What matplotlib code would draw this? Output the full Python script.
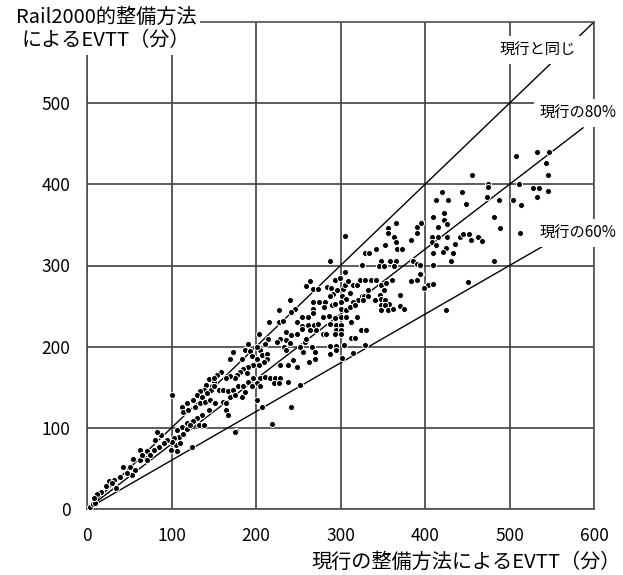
import matplotlib.pyplot as plt

plt.rcParams['font.family'] = ['Noto Sans CJK JP', 'DejaVu Sans']

# 現行の整備方法によるEVTT (x) と Rail2000的整備方法によるEVTT (y)
evtt_now = [
    4, 7, 10,
    101, 144, 150, 141, 148, 138, 134, 147, 130, 136, 142, 126, 118, 112, 114, 120,
    128, 134, 140, 146, 150, 144, 136, 130, 126, 118, 112, 107, 109, 114, 118, 122,
    132, 138, 103, 105, 110, 99, 107, 101, 95, 91, 85, 79, 71, 75, 67, 63, 71, 55,
    51, 43, 57, 53, 47, 39, 32, 26, 30, 22, 34, 16, 12, 8, 87, 83, 81, 63, 65, 124,
    176, 173, 168,
    240, 246, 242, 227, 215, 227, 232, 204, 214, 211, 205, 201, 191, 187, 193, 173,
    169, 183, 195, 201, 207, 213, 213, 209, 204, 197, 191, 185, 189, 181, 177, 175,
    169, 165, 159, 154, 150, 150, 156, 161, 167, 173, 179, 185, 191, 197, 205, 211,
    217, 201, 205, 195, 223, 228, 221, 227, 238, 252, 161, 165, 169, 175, 183, 187,
    152, 165, 167, 201, 207, 242, 219, 175, 248, 254, 236, 242, 248, 228, 225, 233,
    236, 244, 248, 238, 228, 236, 240, 256, 252,
    305, 287, 366, 395, 356, 356, 390, 390, 363, 366, 383, 353, 342, 367, 373, 329,
    334, 325, 348, 358, 366, 346, 352, 363, 386, 390, 394, 383, 390, 395, 399, 405,
    305, 294, 299, 259, 264, 267, 273, 284, 289, 291, 296, 303, 305, 309, 315, 319,
    323, 329, 336, 342, 348, 354, 361, 351, 347, 333, 325, 328, 321, 315, 311, 302,
    307, 300, 287, 282, 274, 268, 268, 268, 280, 290, 294, 300, 307, 311, 317, 327,
    333, 341, 348, 353, 357, 348, 353, 348, 356, 362, 370, 370, 375, 261, 254, 254,
    269, 273, 262, 279, 286, 294, 300, 307, 313, 319, 287, 295, 300, 264, 271, 279,
    283, 295, 300, 294, 300, 258, 256, 266, 270, 259, 287, 295, 304, 287, 295, 312,
    317, 324, 330, 329, 315, 302, 263, 270,
    508, 532, 547, 543, 546, 456, 475, 475, 511, 528, 535, 532, 545, 420, 413, 427,
    444, 448, 473, 487, 504, 514, 482, 489, 513, 395, 409, 423, 423, 426, 415, 408,
    415, 426, 408, 413, 435, 441, 445, 452, 454, 463, 468, 425, 421, 433, 409, 431,
    409, 394, 482, 394, 451, 404, 409, 399, 425,
]
evtt_rail = [
    3, 6, 8,
    141, 160, 157, 153, 151, 147, 145, 146, 140, 138, 143, 134, 130, 126, 120, 122,
    126, 130, 132, 134, 130, 122, 116, 112, 108, 106, 101, 97, 89, 93, 99, 104,
    104, 104, 87, 79, 81, 73, 71, 83, 85, 81, 77, 73, 71, 67, 64, 60, 60, 62,
    52, 52, 48, 42, 44, 40, 36, 34, 32, 28, 26, 21, 19, 13, 91, 95, 85, 73, 67, 77,
    96, 193, 185,
    257, 246, 243, 245, 231, 231, 232, 216, 209, 203, 196, 199, 203, 196, 195, 193,
    185, 185, 188, 185, 190, 191, 185, 181, 178, 177, 175, 173, 167, 169, 165, 161,
    164, 161, 169, 165, 161, 151, 147, 147, 145, 147, 151, 151, 157, 161, 161, 163,
    161, 155, 151, 151, 161, 161, 155, 155, 157, 153, 132, 130, 138, 140, 138, 144,
    130, 122, 116, 134, 126, 126, 105, 95, 231, 225, 218, 214, 216, 210, 206, 200,
    196, 184, 175, 177, 177, 208, 204, 194, 200,
    336, 306, 352, 353, 346, 340, 347, 340, 335, 329, 331, 325, 320, 320, 320, 316,
    316, 301, 306, 306, 306, 300, 300, 300, 306, 302, 300, 281, 282, 290, 273, 276,
    292, 282, 284, 275, 281, 271, 271, 274, 272, 265, 270, 271, 276, 281, 276, 276,
    282, 282, 282, 282, 276, 278, 282, 270, 264, 270, 262, 263, 257, 255, 266, 262,
    259, 255, 262, 255, 255, 255, 247, 242, 249, 251, 253, 247, 245, 249, 251, 258,
    262, 258, 259, 257, 253, 251, 251, 245, 245, 246, 264, 250, 247, 236, 236, 222,
    227, 228, 227, 237, 238, 235, 237, 237, 231, 237, 228, 227, 227, 221, 221, 216,
    216, 221, 221, 216, 216, 206, 194, 200, 193, 209, 201, 201, 202, 191, 196, 211,
    211, 221, 221, 202, 192, 186, 181, 185,
    435, 440, 440, 426, 411, 411, 400, 397, 400, 395, 396, 385, 392, 391, 381, 381,
    390, 376, 385, 381, 381, 375, 360, 346, 340, 352, 360, 365, 356, 351, 347, 335,
    335, 335, 329, 325, 326, 335, 339, 339, 331, 335, 330, 321, 317, 315, 315, 305,
    301, 301, 305, 290, 280, 276, 277, 272, 245,
]

ratios = [1.0, 0.8, 0.6]
line_ends = [600, 587, 540]
line_labels = ['現行と同じ', '現行の80%', '現行の60%']
label_pos = [(533, 565), (581, 488), (581, 340)]
ticks = [0, 100, 200, 300, 400, 500, 600]
yticks = [0, 100, 200, 300, 400, 500]

fig = plt.figure(figsize=(6.23, 5.75), dpi=100)
ax = fig.add_axes([87 / 623, 1 - 509 / 575, 507 / 623, 487 / 575])

ax.set_xlim(0, 600)
ax.set_ylim(0, 600)
ax.set_xticks(ticks)
ax.set_yticks(yticks)
ax.tick_params(length=0, labelsize=12.5)
ax.tick_params(axis='y', pad=12)
ax.tick_params(axis='x', pad=13)
ax.grid(True, color='#404040', linewidth=1.2)
ax.set_axisbelow(True)
for s in ax.spines.values():
    s.set_color('#505050')
    s.set_linewidth(1.2)

for r, xe in zip(ratios, line_ends):
    ax.plot([0, xe], [0, xe * r], color='black', linewidth=1.0, zorder=2)

ax.scatter(evtt_now, evtt_rail, s=19, color='black', edgecolors='white',
           linewidths=0.7, zorder=3)

for lab, (lx, ly) in zip(line_labels, label_pos):
    ax.text(lx, ly, lab, fontsize=11, ha='center', va='center', zorder=5,
            clip_on=False,
            bbox=dict(facecolor='white', edgecolor='none', pad=4))

fig.text(106 / 623, 1 - 29 / 575, 'Rail2000的整備方法\nによるEVTT（分）',
         fontsize=14.5, ha='center', va='center', multialignment='center',
         linespacing=1.1,
         bbox=dict(facecolor='white', edgecolor='none', pad=3))
fig.text(621 / 623, 1 - 562 / 575, '現行の整備方法によるEVTT（分）',
         fontsize=14.5, ha='right', va='center')

fig.savefig('out.png', dpi=100)
